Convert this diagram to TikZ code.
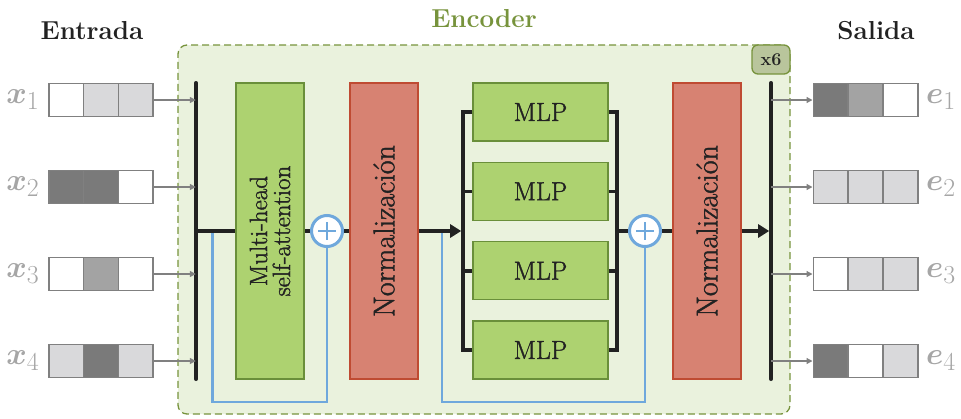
\documentclass[tikz,border=0pt]{standalone}
\usepackage{bm}
\usepackage{graphicx}
\usepackage{fontspec}
\newfontfamily\semib{Latin Modern Roman}[FakeBold=1.4]
\usetikzlibrary{arrows.meta,calc}
\definecolor{encfill}{HTML}{EAF2DD}
\definecolor{encline}{HTML}{77933C}
\definecolor{tagfill}{HTML}{B9C59C}
\definecolor{gfill}{HTML}{ADD270}
\definecolor{gline}{HTML}{6A8F3A}
\definecolor{rfill}{HTML}{D78272}
\definecolor{rline}{HTML}{BF4B32}
\definecolor{resblue}{HTML}{6FA8DC}
\definecolor{cellline}{HTML}{808080}
\definecolor{cw}{HTML}{FFFFFF}
\definecolor{cl}{HTML}{D9D9DB}
\definecolor{cm}{HTML}{A3A3A3}
\definecolor{cd}{HTML}{7A7A7A}
\definecolor{lab}{HTML}{A6A6A6}
\definecolor{ink}{HTML}{222222}
\newcommand{\biglbl}[1]{\scalebox{1.25}{$#1$}}
\begin{document}
\begin{tikzpicture}[x=1pt,y=-1pt,
  cell/.style={draw=cellline,line width=1.3pt,minimum width=34.7pt,minimum height=33.5pt,inner sep=0pt},
  gblock/.style={draw=gline,fill=gfill,line width=1.5pt,inner sep=0pt},
  rblock/.style={draw=rline,fill=rfill,line width=1.5pt,inner sep=0pt},
  bar/.style={inner sep=0pt,minimum width=0pt,minimum height=296pt},
  blk/.style={draw=ink,line width=3.6pt},
  blkarrow/.style={blk,-{Triangle[length=11pt,width=13pt]}},
  grayarrow/.style={draw=cellline,line width=1.3pt,-{Triangle[length=6pt,width=6pt]}},
  res/.style={draw=resblue,line width=2.8pt},
  plus/.style={circle,draw=resblue,fill=white,line width=3pt,minimum size=31pt,inner sep=0pt},
  lbl/.style={text=lab,font=\fontsize{24.88}{28}\selectfont,inner sep=0pt},
  title/.style={font=\fontsize{26}{30}\selectfont\bfseries},
  vtext/.style={rotate=90,align=center,text=ink}
]
\useasboundingbox (0,0) rectangle (961,418);
% encoder background
\node[draw=encline,fill=encfill,line width=1.3pt,dash pattern=on 7pt off 4pt,rounded corners=9pt,
  minimum width=612pt,minimum height=369pt,inner sep=0pt] (enc) at (484,229.5) {};
\node[title,text=encline] (enctitle) at (484,19) {Encoder};
\node[title,text=ink] (entrada) at (92,31) {Entrada};
\node[title,text=ink] (salida) at (876,31) {Salida};
\node[draw=encline,fill=tagfill,line width=1.3pt,rounded corners=6pt,minimum width=38pt,minimum height=29pt,inner sep=0pt,
  font=\fontsize{18}{20}\selectfont\bfseries,text=ink] (tag) at (771,59.5) {x6};

% bars
\node[bar] (lbar) at (196,231) {};
\node[bar] (rbar) at (771,231) {};
\draw[blk,line cap=round] (lbar.north) -- (lbar.south);
\draw[blk,line cap=round] (rbar.north) -- (rbar.south);

% input vectors
\foreach \i/\y/\a/\b/\c in {1/100/cw/cl/cl,2/187/cd/cd/cw,3/274/cw/cm/cw,4/361/cl/cd/cl}{
  \node[cell,fill=\a] (x\i a) at (66.3,\y) {};
  \node[cell,fill=\b] (x\i b) at (101,\y) {};
  \node[cell,fill=\c] (x\i c) at (135.7,\y) {};
  \node[lbl] (xl\i) at (23,\y) {\biglbl{\bm{x}_{\i}}};
  \draw[grayarrow] (x\i c.east) -- (x\i c.east -| lbar.west);
}
% output vectors
\foreach \i/\y/\a/\b/\c in {1/100/cd/cm/cw,2/187/cl/cl/cl,3/274/cw/cl/cl,4/361/cd/cw/cl}{
  \node[cell,fill=\a] (e\i a) at (830.5,\y) {};
  \node[cell,fill=\b] (e\i b) at (865.5,\y) {};
  \node[cell,fill=\c] (e\i c) at (900.5,\y) {};
  \node[lbl] (el\i) at (941,\y) {\biglbl{\bm{e}_{\i}}};
  \draw[grayarrow] (rbar.center |- e\i a.west) -- (e\i a.west);
}

% blocks
\node[gblock,minimum width=68pt,minimum height=296pt] (att) at (270,231) {};
\node[vtext,font=\semib\fontsize{25}{26}\selectfont] at (att.center) {Multi-head\\[-3pt]self-attention};
\node[rblock,minimum width=68pt,minimum height=296pt] (n1) at (384,231) {};
\node[vtext,font=\semib\fontsize{30}{32}\selectfont] at (n1.center) {Normalización};
\node[rblock,minimum width=68pt,minimum height=296pt] (n2) at (707,231) {};
\node[vtext,font=\semib\fontsize{30}{32}\selectfont] at (n2.center) {Normalización};

\foreach \i/\y in {1/112,2/191.3,3/270.7,4/350}{
  \node[gblock,minimum width=135pt,minimum height=58pt,font=\semib\fontsize{26}{28}\selectfont,text=ink] (m\i) at (540.5,\y) {MLP};
}
\coordinate (lb) at (463,231);
\coordinate (rb) at (617,231);

\node[plus] (p1) at (327,231) {};
\node[plus] (p2) at (645,231) {};
\draw[draw=resblue,line width=1.6pt] ($(p1.center)+(-9,0)$) -- ($(p1.center)+(9,0)$) ($(p1.center)+(0,-9)$) -- ($(p1.center)+(0,9)$);
\draw[draw=resblue,line width=1.6pt] ($(p2.center)+(-9,0)$) -- ($(p2.center)+(9,0)$) ($(p2.center)+(0,-9)$) -- ($(p2.center)+(0,9)$);

% residual lines
\coordinate (r1) at (212.5,231);
\coordinate (r2) at (442,231);
\draw[res] (r1) -- ++(0,171) -| (p1.south);
\draw[res] (r2) -- ++(0,171) -| (p2.south);

% main black flow
\draw[blk] (lbar.center) -- (att.west);
\draw[blk] (att.east) -- (p1.west);
\draw[blk] (p1.east) -- (n1.west);
\draw[blkarrow] (n1.east) -- ($(lb)+(-1.8,0)$);
\draw[blk] (m1.west) -- (m1.west -| lb) -- (m4.west -| lb) -- (m4.west);
\draw[blk] (m2.west -| lb) -- (m2.west);
\draw[blk] (m3.west -| lb) -- (m3.west);
\draw[blk] (m1.east) -- (m1.east -| rb) -- (m4.east -| rb) -- (m4.east);
\draw[blk] (m2.east) -- (m2.east -| rb);
\draw[blk] (m3.east) -- (m3.east -| rb);
\draw[blk] (rb) -- (p2.west);
\draw[blk] (p2.east) -- (n2.west);
\draw[blkarrow] (n2.east) -- ($(rbar.center)+(-1.8,0)$);
\end{tikzpicture}
\end{document}
